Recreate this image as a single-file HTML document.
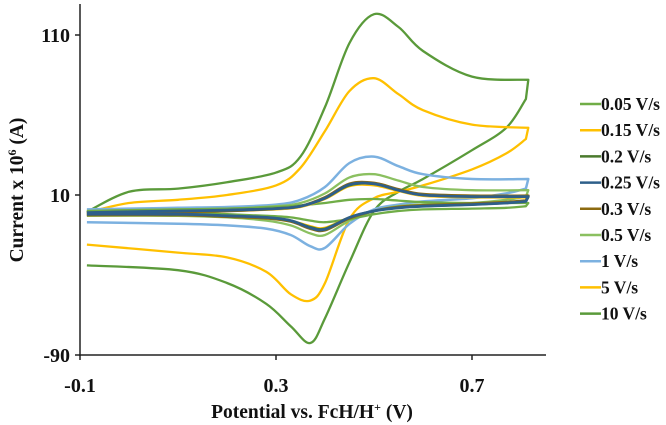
<!DOCTYPE html>
<html><head><meta charset="utf-8"><style>
html,body{margin:0;padding:0;background:#fff;width:666px;height:425px;overflow:hidden}
svg{display:block;font-family:"Liberation Serif",serif;font-weight:bold}
</style></head><body>
<svg id="chart" width="666" height="425">
<g id="plot"></g>
<g id="axes"></g>
<g id="legend"></g>
</svg>
<script>
const seriesNames=["0.05 V/s","0.15 V/s","0.2 V/s","0.25 V/s","0.3 V/s","0.5 V/s","1 V/s","5 V/s","10 V/s"];
const seriesColors=["#70ad47","#ffc000","#4a7a2c","#2e5f8a","#8c6a10","#8bc060","#7cb1e0","#ffc000","#5a9a3a"];
const xTicks=[-0.1,0.3,0.7];
const yTicks=[-90,10,110];
const fwdX=[-0.086,0,0.1,0.2,0.3,0.35,0.4,0.45,0.5,0.55,0.6,0.7,0.815];
const revX=[0.815,0.81,0.77,0.7,0.6,0.55,0.5,0.45,0.4,0.37,0.33,0.28,0.2,0.1,-0.086];
const fwd005=[0,0.5,1,1.5,2.5,3.5,5,7,7.5,6.5,5.5,5,5];
const rev005=[5,3,2,1.5,1,0,-2,-5,-7,-6,-4,-3,-2,-1,-1];
const fwd015=[-1.5,-1,-0.5,0,1,2.5,7.5,15.5,16,12.5,9.5,8.5,8.5];
const rev015=[8.5,6,5,4,3,2,0,-4,-10.5,-9.5,-6,-4,-3,-2.5,-2.5];
const fwd02=[-1,-0.5,0,0.5,1.5,3,8,16,17,13,10,9,9];
const rev02=[9,6,5,4,3,2,0,-4,-11,-10,-6,-4,-3,-2,-2];
const fwd025=[-1,-0.5,0,0.5,1.5,3,8,16.5,17,13,10,9,9];
const rev025=[9,6,5,4,3,2,0,-4,-11.5,-10.5,-6,-4,-3,-2,-2];
const fwd03=[-1.5,-1,-0.5,0,1.5,3,8.5,17,17.5,13.5,10.5,9.5,9.5];
const rev03=[9.5,6.5,5.5,4.5,3.5,2.5,0,-4.5,-12,-11,-6.5,-4.5,-3.5,-2.5,-2.5];
const fwd05=[0,0.5,1,1.5,3,5,11,21,23,19,15,13,13];
const rev05=[13,9,7,5,4,3,0,-6,-15,-14,-9,-6,-4,-3,-3];
const fwd1=[1,1.5,2,2.5,4,7,15,30,34,28,23,20,20];
const rev1=[20,14,11,8,6,4,1,-8,-23,-22,-15,-11,-9,-8,-7];
const fwd5=[-1,5,7,10,16,27,50,75,83,73,63,54,52];
const rev5=[52,45,36,26,16,12,8,-5,-45,-56,-52,-38,-29,-26,-21];
const fwd10=[-0.6,12,14,18,24,34,65,105,123,115,100,84,82];
const rev10=[82,70,52,38,20,12,0,-32,-67,-82.5,-72,-58,-45,-37,-34];
const fwdSeries=[fwd005,fwd015,fwd02,fwd025,fwd03,fwd05,fwd1,fwd5,fwd10];
const revSeries=[rev005,rev015,rev02,rev025,rev03,rev05,rev1,rev5,rev10];

const NS="http://www.w3.org/2000/svg";
const X=v=>80+(v+0.1)*490;
const Y=v=>195-(v-10)*1.6;
function mk(tag,attrs,parent){const e=document.createElementNS(NS,tag);for(const k in attrs)e.setAttribute(k,attrs[k]);parent.appendChild(e);return e;}
function spline(pts,move){let d=(move?"M":"L")+pts[0][0].toFixed(1)+","+pts[0][1].toFixed(1);
 for(let i=0;i<pts.length-1;i++){const p0=pts[Math.max(i-1,0)],p1=pts[i],p2=pts[i+1],p3=pts[Math.min(i+2,pts.length-1)];
  const c1=[p1[0]+(p2[0]-p0[0])/6,p1[1]+(p2[1]-p0[1])/6],c2=[p2[0]-(p3[0]-p1[0])/6,p2[1]-(p3[1]-p1[1])/6];
  d+="C"+c1[0].toFixed(1)+","+c1[1].toFixed(1)+" "+c2[0].toFixed(1)+","+c2[1].toFixed(1)+" "+p2[0].toFixed(1)+","+p2[1].toFixed(1);}
 return d;}
const plot=document.getElementById('plot');
const widths=[2.3,2.3,2.3,2.8,2.8,2.3,2.5,2.3,2.3];
const order=[8,7,6,5,0,1,2,4,3];
order.forEach(i=>{
 const fp=fwdX.map((x,k)=>[X(x),Y(fwdSeries[i][k])]);
 const rp=revX.slice(1).map((x,k)=>[X(x),Y(revSeries[i][k+1])]);
 const p=mk('path',{d:spline(fp,true)+spline(rp,false),fill:'none',stroke:seriesColors[i],'stroke-width':widths[i],'stroke-linejoin':'round'},plot);
 
 
});
const axes=document.getElementById('axes');
let a=mk('line',{x1:80,y1:4,x2:80,y2:356,stroke:'#222','stroke-width':1.5},axes);

a=mk('line',{x1:79,y1:355,x2:546,y2:355,stroke:'#222','stroke-width':1.5},axes);

xTicks.forEach(v=>{
 const t=mk('line',{x1:X(v),y1:355,x2:X(v),y2:360,stroke:'#222','stroke-width':1.5},axes);
 
 const l=mk('text',{x:X(v),y:392,'text-anchor':'middle','font-size':20,fill:'#111'},axes);l.textContent=v.toFixed(1);
 
});
yTicks.forEach(v=>{
 const t=mk('line',{x1:75,y1:Y(v),x2:80,y2:Y(v),stroke:'#222','stroke-width':1.5},axes);
 
 const l=mk('text',{x:70,y:Y(v)+7,'text-anchor':'end','font-size':20,fill:'#111'},axes);l.textContent=v;
 
});
let tt=mk('text',{x:312,y:418,'text-anchor':'middle','font-size':19.5,fill:'#111'},axes);
tt.innerHTML='Potential vs. FcH/H<tspan dy="-7" font-size="12">+</tspan><tspan dy="7"> (V)</tspan>';

tt=mk('text',{x:0,y:0,'text-anchor':'middle','font-size':19.5,fill:'#111',transform:'translate(23,190) rotate(-90)'},axes);
tt.innerHTML='Current x 10<tspan dy="-7" font-size="12">6</tspan><tspan dy="7"> (A)</tspan>';

const lg=document.getElementById('legend');
seriesNames.forEach((n,i)=>{
 const y=104+i*26.2;
 const g=mk('g',{},lg);
 
 mk('line',{x1:580,y1:y,x2:601,y2:y,stroke:seriesColors[i],'stroke-width':2.5},g);
 const t=mk('text',{x:601,y:y+6,'font-size':17.5,fill:'#111'},g);t.textContent=n;
});
</script>
</body></html>
